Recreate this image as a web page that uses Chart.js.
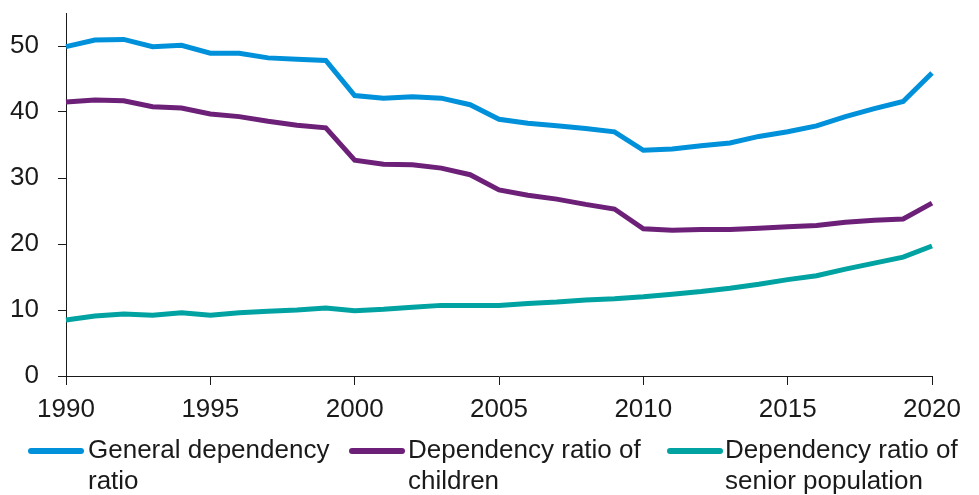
<!DOCTYPE html>
<html>
<head>
<meta charset="utf-8">
<script src="https://cdn.jsdelivr.net/npm/chart.js@4"></script>
<style>
    html, body { margin: 0; padding: 0; background: #fff; }
    #wrap { position: relative; width: 979px; height: 495px; }
    #chart { position: absolute; left: 0; top: 0; }
    .legend-item { position: absolute; top: 434px; font-family: "Liberation Sans", Arial, sans-serif; font-size: 26px; line-height: 31px; color: #1a1a1a; }
    .legend-item .swatch { position: absolute; top: 14px; height: 6px; width: 56px; border-radius: 3px; }
    .legend-item .label { position: absolute; left: 0; top: 0; white-space: nowrap; }
</style>
</head>
<body>
<div id="wrap">
    <canvas id="chart" width="979" height="495"></canvas>
    <div id="legend"></div>
</div>
<script>
// Chart data
const years = [1990, 1991, 1992, 1993, 1994, 1995, 1996, 1997, 1998, 1999,
               2000, 2001, 2002, 2003, 2004, 2005, 2006, 2007, 2008, 2009,
               2010, 2011, 2012, 2013, 2014, 2015, 2016, 2017, 2018, 2019, 2020];
const generalRatio = [49.9, 50.9, 51.0, 49.9, 50.1, 48.9, 48.9, 48.2, 48.0, 47.8,
                      42.5, 42.1, 42.3, 42.1, 41.1, 38.9, 38.3, 37.9, 37.5, 37.0,
                      34.2, 34.4, 34.9, 35.3, 36.3, 37.0, 37.9, 39.3, 40.5, 41.6, 45.9];
const childrenRatio = [41.5, 41.8, 41.7, 40.8, 40.6, 39.7, 39.3, 38.6, 38.0, 37.6,
                       32.7, 32.1, 32.0, 31.5, 30.5, 28.2, 27.4, 26.8, 26.0, 25.3,
                       22.3, 22.1, 22.2, 22.2, 22.4, 22.6, 22.8, 23.3, 23.6, 23.8, 26.2];
const seniorRatio = [8.5, 9.1, 9.4, 9.2, 9.6, 9.2, 9.6, 9.8, 10.0, 10.3,
                     9.9, 10.1, 10.4, 10.7, 10.7, 10.7, 11.0, 11.2, 11.5, 11.7,
                     12.0, 12.4, 12.8, 13.3, 13.9, 14.6, 15.2, 16.2, 17.1, 18.0, 19.7];
const yTicks = [0, 10, 20, 30, 40, 50];
const xTicks = [1990, 1995, 2000, 2005, 2010, 2015, 2020];

const seriesNames = [['General dependency', 'ratio'], ['Dependency ratio of', 'children'], ['Dependency ratio of', 'senior population']];
const seriesColors = ['#0091DA', '#6D2077', '#00A3A1'];
const seriesValues = [generalRatio, childrenRatio, seniorRatio];

const axisColor = '#1a1a1a';
const tickFont = { family: '"Liberation Sans", Arial, sans-serif', size: 26 };

const ctx = document.getElementById('chart').getContext('2d');
new Chart(ctx, {
    type: 'line',
    data: {
        datasets: seriesValues.map((vals, i) => ({
            label: seriesNames[i].join(' '),
            data: years.map((yr, j) => ({ x: yr, y: vals[j] })),
            borderColor: seriesColors[i],
            backgroundColor: seriesColors[i],
            borderWidth: 5,
            pointRadius: 0,
            tension: 0,
            clip: false
        }))
    },
    options: {
        responsive: false,
        animation: false,
        devicePixelRatio: 1,
        layout: { padding: { top: 13, right: 47, left: 0, bottom: 0 } },
        plugins: { legend: { display: false }, tooltip: { enabled: false } },
        scales: {
            x: {
                type: 'linear',
                min: 1990,
                max: 2020,
                afterBuildTicks: s => { s.ticks = xTicks.map(v => ({ value: v })); },
                afterFit: s => { s.height = 495 - 376; s.paddingLeft = 0; s.paddingRight = 0; },
                ticks: { font: tickFont, color: axisColor, padding: 9, maxRotation: 0, callback: v => String(v) },
                grid: { drawOnChartArea: false, drawTicks: true, tickLength: 9, color: axisColor, lineWidth: 1 },
                border: { display: true, color: axisColor, width: 1 }
            },
            y: {
                min: 0,
                max: 55,
                afterBuildTicks: s => { s.ticks = yTicks.map(v => ({ value: v })); },
                afterFit: s => { s.width = 66; s.paddingTop = 0; s.paddingBottom = 0; },
                ticks: { font: tickFont, color: axisColor, padding: 19 },
                grid: { drawOnChartArea: false, drawTicks: true, tickLength: 8, color: axisColor, lineWidth: 1 },
                border: { display: true, color: axisColor, width: 1 }
            }
        }
    }
});

// Legend built as HTML so labels wrap onto two lines
const legendPos = [{ line: 28, text: 88 }, { line: 349, text: 408 }, { line: 667, text: 725 }];
const legend = document.getElementById('legend');
seriesNames.forEach((name, i) => {
    const item = document.createElement('div');
    item.className = 'legend-item';
    item.style.left = legendPos[i].line + 'px';
    item.innerHTML = `
        <span class="swatch" style="left:0;background:${seriesColors[i]}"></span>
        <span class="label" style="left:${legendPos[i].text - legendPos[i].line}px">${name[0]}<br>${name[1]}</span>
    `;
    legend.appendChild(item);
});
</script>
</body>
</html>
